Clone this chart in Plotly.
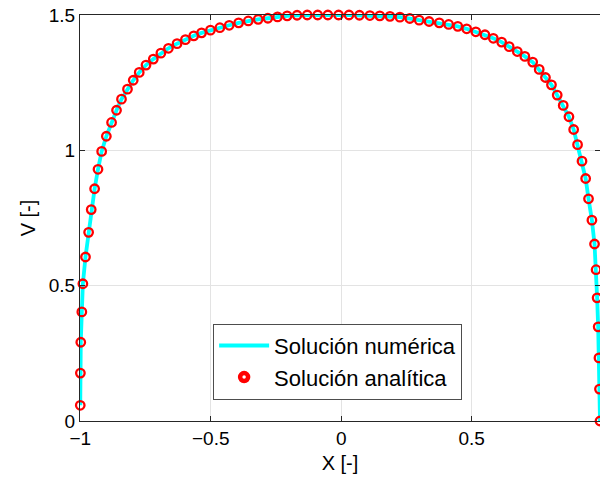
import plotly.graph_objects as go

# Analytic solution points
x_ana = [-1.000, -0.9995, -0.998, -0.994, -0.990, -0.980, -0.968, -0.958, -0.945, -0.932,
         -0.918, -0.900, -0.880, -0.861, -0.842, -0.819, -0.797, -0.774, -0.748, -0.720,
         -0.691, -0.662, -0.629, -0.597, -0.565, -0.535, -0.501, -0.465, -0.429, -0.393,
         -0.356, -0.318, -0.281, -0.244, -0.207, -0.169, -0.130, -0.090, -0.051, -0.010,
         0.030, 0.070, 0.110, 0.148, 0.187, 0.225, 0.263, 0.299, 0.337, 0.376,
         0.412, 0.447, 0.481, 0.516, 0.551, 0.583, 0.615, 0.644, 0.675, 0.704,
         0.734, 0.759, 0.783, 0.806, 0.828, 0.851, 0.873, 0.891, 0.906, 0.923,
         0.937, 0.948, 0.961, 0.971, 0.977, 0.981, 0.985, 0.988, 0.990, 0.992]
v_ana = [0.058, 0.177, 0.291, 0.403, 0.507, 0.606, 0.697, 0.781, 0.858, 0.930,
         0.996, 1.052, 1.103, 1.148, 1.189, 1.226, 1.259, 1.288, 1.315, 1.337,
         1.359, 1.377, 1.394, 1.409, 1.423, 1.434, 1.444, 1.453, 1.462, 1.471,
         1.478, 1.484, 1.488, 1.493, 1.497, 1.499, 1.500, 1.500, 1.500, 1.500,
         1.500, 1.499, 1.498, 1.497, 1.495, 1.492, 1.487, 1.481, 1.476, 1.471,
         1.465, 1.458, 1.449, 1.438, 1.427, 1.414, 1.400, 1.383, 1.365, 1.347,
         1.326, 1.299, 1.269, 1.242, 1.204, 1.166, 1.124, 1.077, 1.021, 0.960,
         0.896, 0.821, 0.742, 0.654, 0.559, 0.455, 0.348, 0.233, 0.118, 0.000]

# Numerical solution (line) follows the same profile
x_num = x_ana
v_num = v_ana

x_ticks = [-1, -0.5, 0, 0.5]
x_ticktext = ["\u22121", "\u22120.5", "0", "0.5"]
y_ticks = [0, 0.5, 1, 1.5]
y_ticktext = ["0", "0.5", "1", "1.5"]

FONT = "Liberation Sans, Arial, Helvetica, sans-serif"
AX = "#262626"

fig = go.Figure()
fig.add_trace(go.Scatter(
    x=x_num, y=v_num, mode="lines", name="Solución numérica",
    line=dict(color="#00ffff", width=3.8), showlegend=True))
fig.add_trace(go.Scatter(
    x=x_ana, y=v_ana, mode="markers", name="Solución analítica",
    marker=dict(symbol="circle-open", size=8.5, color="#ff0000",
                line=dict(color="#ff0000", width=2.3)),
    cliponaxis=False, showlegend=False))
fig.add_trace(go.Scatter(
    x=[None], y=[None], mode="markers", name="Solución analítica",
    marker=dict(symbol="circle-open", size=8, color="#ff0000",
                line=dict(color="#ff0000", width=4.5)),
    showlegend=True))

fig.update_layout(
    width=600, height=479,
    margin=dict(l=80, r=0, t=15, b=58),
    plot_bgcolor="white", paper_bgcolor="white",
    font=dict(family=FONT, size=19, color="#000000"),
    xaxis=dict(range=[-1.001, 0.992], tickvals=x_ticks, ticktext=x_ticktext,
               showgrid=True, gridcolor="#e3e3e3", gridwidth=1, zeroline=False,
               showline=True, linecolor=AX, linewidth=1, mirror="ticks",
               ticks="inside", ticklen=5, tickcolor=AX, tickwidth=1,
               tickfont=dict(size=19, family=FONT, color="#000000"),
               title=dict(text="X [-]", font=dict(size=20, family=FONT), standoff=8)),
    yaxis=dict(range=[0, 1.5], tickvals=y_ticks, ticktext=y_ticktext,
               showgrid=True, gridcolor="#e3e3e3", gridwidth=1, zeroline=False,
               showline=True, linecolor=AX, linewidth=1, mirror="ticks",
               ticks="inside", ticklen=5, tickcolor=AX, tickwidth=1,
               tickfont=dict(size=19, family=FONT, color="#000000"),
               title=dict(text="V [-]", font=dict(size=20, family=FONT), standoff=7)),
    legend=dict(x=0.256, y=0.2396, xanchor="left", yanchor="top",
                bgcolor="white", bordercolor="#4d4d4d", borderwidth=1,
                font=dict(size=22, family=FONT, color="#000000"),
                itemwidth=50, tracegroupgap=0),
    annotations=[dict(text="1", x=1, xref="x", y=0, yref="y", yanchor="top",
                      xanchor="center", yshift=-6, showarrow=False,
                      font=dict(size=19, family=FONT, color="#000000"))],
)

fig.write_html("out.html")
